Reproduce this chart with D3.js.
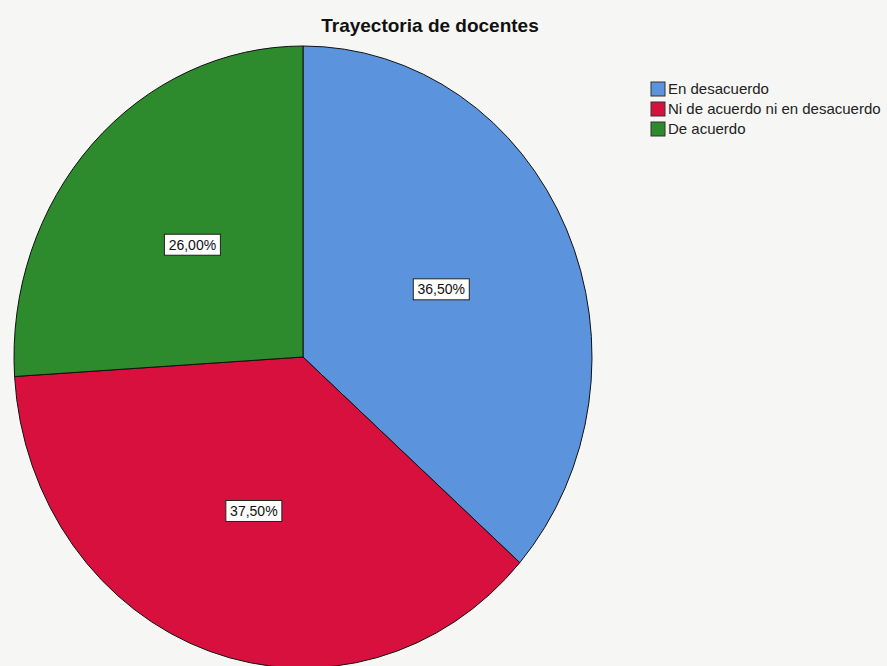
<!DOCTYPE html>
<html>
<head>
<meta charset="utf-8">
<script src="https://cdn.jsdelivr.net/npm/d3@7"></script>
<style>
  body { margin: 0; background: #f6f6f4; }
  svg { display: block; }
</style>
</head>
<body>
<div id="chart"></div>
<script>
const categories = ['En desacuerdo', 'Ni de acuerdo ni en desacuerdo', 'De acuerdo'];
const percents = [36.5, 37.5, 26.0];
const colours = ['#5b94dc', '#d8103e', '#2d8a2d'];
const title = 'Trayectoria de docentes';

const width = 887, height = 666;
const cx = 303, cy = 357;
const rx = 289, ry = 311;

const svg = d3.select('#chart')
    .append('svg')
    .attr('width', width)
    .attr('height', height);

svg.append('rect')
    .attr('width', width)
    .attr('height', height)
    .attr('fill', '#f6f6f4');

const data = categories.map((c, i) => ({ name: c, value: percents[i] }));

const pie = d3.pie()
    .sort(null)
    .value(d => d.value);

const arcs = pie(data);

// drawn as a circle of radius rx, then stretched vertically into the ellipse
const arc = d3.arc().innerRadius(0).outerRadius(rx);
const labelArc = d3.arc().innerRadius(0).outerRadius(rx * 1.05);

const pieGroup = svg.append('g')
    .attr('transform', 'translate(' + cx + ',' + cy + ') scale(1,' + (ry / rx) + ')');

pieGroup.selectAll('path')
    .data(arcs)
    .enter()
    .append('path')
    .attr('d', arc)
    .attr('fill', (d, i) => colours[i])
    .attr('stroke', '#111')
    .attr('stroke-width', 1)
    .attr('vector-effect', 'non-scaling-stroke');

const fmt = v => v.toFixed(2).replace('.', ',') + '%';

const labels = svg.append('g')
    .selectAll('g')
    .data(arcs)
    .enter()
    .append('g')
    .attr('transform', d => {
        const c = labelArc.centroid(d);
        return 'translate(' + (cx + c[0]) + ',' + (cy + c[1] * ry / rx) + ')';
    });

labels.append('rect')
    .attr('x', -28)
    .attr('y', -11)
    .attr('width', 56)
    .attr('height', 21)
    .attr('fill', '#fdfdfd')
    .attr('stroke', '#222')
    .attr('stroke-width', 1);

labels.append('text')
    .attr('text-anchor', 'middle')
    .attr('dy', '0.33em')
    .style('font-family', '"Liberation Sans", Arial, sans-serif')
    .style('font-size', '14px')
    .attr('fill', '#111')
    .text(d => fmt(d.data.value));

svg.append('text')
    .attr('x', 430)
    .attr('y', 32)
    .attr('text-anchor', 'middle')
    .style('font-family', '"Liberation Sans", Arial, sans-serif')
    .style('font-size', '19px')
    .style('font-weight', 'bold')
    .attr('fill', '#111')
    .text(title);

const legend = svg.append('g')
    .attr('transform', 'translate(651,82)');

const rows = legend.selectAll('g')
    .data(categories)
    .enter()
    .append('g')
    .attr('transform', (d, i) => 'translate(0,' + (i * 20) + ')');

rows.append('rect')
    .attr('width', 14)
    .attr('height', 14)
    .attr('fill', (d, i) => colours[i])
    .attr('stroke', '#333')
    .attr('stroke-width', 1);

rows.append('text')
    .attr('x', 17)
    .attr('y', 7)
    .attr('dy', '0.36em')
    .style('font-family', '"Liberation Sans", Arial, sans-serif')
    .style('font-size', '15px')
    .attr('fill', '#222')
    .text(d => d);
</script>
</body>
</html>
